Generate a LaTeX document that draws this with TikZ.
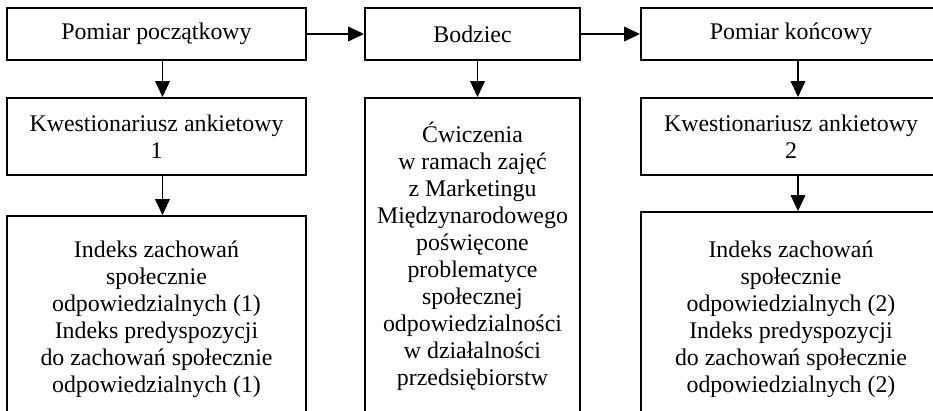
\documentclass[tikz,border=0pt]{standalone}
\usepackage{fontspec}
\setmainfont{Liberation Serif}
\usetikzlibrary{arrows.meta}

\tikzset{every picture/.style={line width=1.4pt}}
\tikzset{
	box/.style={draw, rectangle, inner sep=0pt, align=center},
	flow/.style={-{Triangle[length=12pt,width=11pt]}, line width=1.2pt}
}

\begin{document}
\begin{tikzpicture}[x=0.75pt,y=0.75pt,yscale=-1,xscale=1,font=\fontsize{17.9pt}{20.25pt}\selectfont]
	\useasboundingbox (0,0) rectangle (933,411);
	\clip (0,0) rectangle (933,411);
	\fill [white] (0,0) rectangle (933,411);

	%Shape: Rectangle [id:start]
	\draw (156.5,34) node [box, minimum width=224.25pt, minimum height=39pt] (start) {Pomiar początkowy};
	%Shape: Rectangle [id:stim]
	\draw (472.5,34) node [box, minimum width=161.25pt, minimum height=39pt] (stim) {Bodziec};
	%Shape: Rectangle [id:finish]
	\draw (791,34) node [box, minimum width=225pt, minimum height=39pt] (finish) {Pomiar końcowy};
	%Shape: Rectangle [id:quest1]
	\draw (156.5,136.5) node [box, minimum width=224.25pt, minimum height=57.75pt] (quest1) {Kwestionariusz ankietowy\\1};
	%Shape: Rectangle [id:quest2]
	\draw (791,136.5) node [box, minimum width=225pt, minimum height=57.75pt] (quest2) {Kwestionariusz ankietowy\\2};
	%Shape: Rectangle [id:task]
	\draw (472.5,269) node [box, minimum width=161.25pt, minimum height=256.5pt] (task) {};
	%Shape: Rectangle [id:index1]
	\draw (156.5,328) node [box, minimum width=224.25pt, minimum height=168pt] (index1) {};
	%Shape: Rectangle [id:index2]
	\draw (791,326) node [box, minimum width=225pt, minimum height=171pt] (index2) {};

	%Straight Lines [id:start-stim]
	\draw [flow] (start) -- (stim);
	%Straight Lines [id:stim-finish]
	\draw [flow] (stim) -- (finish);
	%Straight Lines [id:start-quest1]
	\draw [flow] ([xshift=4.5pt]start.south) -- ([xshift=4.5pt]quest1.north);
	%Straight Lines [id:stim-task]
	\draw [flow] ([xshift=3.75pt]stim.south) -- ([xshift=3.75pt]task.north);
	%Straight Lines [id:finish-quest2]
	\draw [flow] ([xshift=5.25pt]finish.south) -- ([xshift=5.25pt]quest2.north);
	%Straight Lines [id:quest1-index1]
	\draw [flow] ([xshift=4.5pt]quest1.south) -- ([xshift=4.5pt]index1.north);
	%Straight Lines [id:quest2-index2]
	\draw [flow] ([xshift=5.25pt]quest2.south) -- ([xshift=5.25pt]index2.north);

	% Text Node
	\draw (472.5,117) node [anchor=north, align=center] (tasktext) {Ćwiczenia\\w ramach zajęć\\z Marketingu\\Międzynarodowego\\poświęcone\\problematyce\\społecznej\\odpowiedzialności\\w działalności\\przedsiębiorstw};
	% Text Node
	\draw (156.5,236) node [anchor=north, align=center] (index1text) {Indeks zachowań\\społecznie\\odpowiedzialnych (1)\\Indeks predyspozycji\\do zachowań społecznie\\odpowiedzialnych (1)};
	% Text Node
	\draw (791,236) node [anchor=north, align=center] (index2text) {Indeks zachowań\\społecznie\\odpowiedzialnych (2)\\Indeks predyspozycji\\do zachowań społecznie\\odpowiedzialnych (2)};

\end{tikzpicture}
\end{document}
